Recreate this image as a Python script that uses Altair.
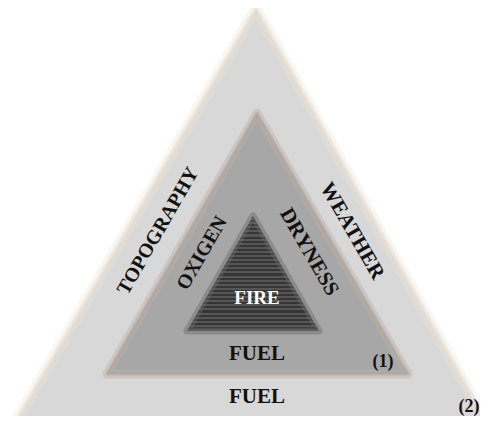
import altair as alt
import pandas as pd

# Triangle vertices (pixel-like coordinates of the diagram)
tri_names = ["outer", "middle", "inner"]
tri_left_x = [16, 107, 187]
tri_apex_x = [256, 257, 253]
tri_right_x = [486, 408, 319]
tri_apex_y = [9, 113, 216]
tri_base_y = [422, 374, 331]

# Labels
h_labels = ["FIRE", "FUEL", "FUEL", "(1)", "(2)"]
h_x = [257, 257, 257, 383, 469]
h_y = [298, 354, 397, 362, 407]
h_color = ["#ffffff", "#111111", "#111111", "#111111", "#111111"]
h_size = [19, 21, 21, 18, 18]

left_labels = ["TOPOGRAPHY", "OXIGEN"]
left_x = [158, 202]
left_y = [231, 253]

right_labels = ["WEATHER", "DRYNESS"]
right_x = [352, 309]
right_y = [231, 252]

xs = alt.Scale(domain=[8, 480])
ys = alt.Scale(domain=[8, 416], reverse=True)


def tri_df(i):
    return pd.DataFrame({
        "x": [tri_left_x[i], tri_apex_x[i], tri_right_x[i]],
        "y": [tri_base_y[i], tri_apex_y[i], tri_base_y[i]],
        "y2": [tri_base_y[i]] * 3,
    })


def tri_layer(i, **mark):
    return alt.Chart(tri_df(i)).mark_area(**mark).encode(
        x=alt.X("x:Q", scale=xs, axis=None),
        y=alt.Y("y:Q", scale=ys, axis=None),
        y2="y2:Q",
    )


# striped gradient for the inner triangle
stops = []
n = 28
for k in range(n):
    a = k / n
    b = (k + 0.5) / n
    c = (k + 1) / n
    stops += [
        alt.GradientStop(offset=a, color="#353535"),
        alt.GradientStop(offset=b, color="#353535"),
        alt.GradientStop(offset=b, color="#565656"),
        alt.GradientStop(offset=c, color="#565656"),
    ]
stripe = alt.Gradient(gradient="linear", stops=stops, x1=0, x2=0, y1=0, y2=1)

layers = [
    tri_layer(0, color="#d8d8d8"),
    tri_layer(0, fill=None, fillOpacity=0, stroke="#efe2d6", strokeWidth=12, strokeOpacity=0.35, strokeJoin="round"),
    tri_layer(0, fill=None, fillOpacity=0, stroke="#e6ddd5", strokeWidth=5, strokeOpacity=0.6, strokeJoin="round"),
    tri_layer(1, color="#a7a7a7"),
    tri_layer(1, fill=None, fillOpacity=0, stroke="#bcb2aa", strokeWidth=9, strokeOpacity=0.45, strokeJoin="round"),
    tri_layer(1, fill=None, fillOpacity=0, stroke="#b0a59c", strokeWidth=3, strokeOpacity=0.6, strokeJoin="round"),
    tri_layer(2, color=stripe),
    tri_layer(2, fill=None, fillOpacity=0, stroke="#6a6a6a", strokeWidth=7, strokeOpacity=0.45, strokeJoin="round"),
]

hdf = pd.DataFrame({"t": h_labels, "x": h_x, "y": h_y, "c": h_color, "s": h_size})
h_text = alt.Chart(hdf).mark_text(
    font="Liberation Serif", fontWeight="bold", align="center", baseline="middle"
).encode(
    x=alt.X("x:Q", scale=xs, axis=None),
    y=alt.Y("y:Q", scale=ys, axis=None),
    text="t:N",
    color=alt.Color("c:N", scale=None),
    size=alt.Size("s:Q", scale=None),
)

ldf = pd.DataFrame({"t": left_labels, "x": left_x, "y": left_y})
l_text = alt.Chart(ldf).mark_text(
    font="Liberation Serif", fontWeight="bold", fontSize=20, angle=300,
    align="center", baseline="middle", color="#111111"
).encode(
    x=alt.X("x:Q", scale=xs, axis=None),
    y=alt.Y("y:Q", scale=ys, axis=None),
    text="t:N",
)

rdf = pd.DataFrame({"t": right_labels, "x": right_x, "y": right_y})
r_text = alt.Chart(rdf).mark_text(
    font="Liberation Serif", fontWeight="bold", fontSize=21, angle=60,
    align="center", baseline="middle", color="#111111"
).encode(
    x=alt.X("x:Q", scale=xs, axis=None),
    y=alt.Y("y:Q", scale=ys, axis=None),
    text="t:N",
)

chart = alt.layer(*layers, h_text, l_text, r_text).properties(
    width=472, height=408,
    autosize=alt.AutoSizeParams(type="none"),
    padding=0,
).configure_view(stroke=None)

chart.save("out.html", embed_options={"renderer": "svg", "actions": False})
